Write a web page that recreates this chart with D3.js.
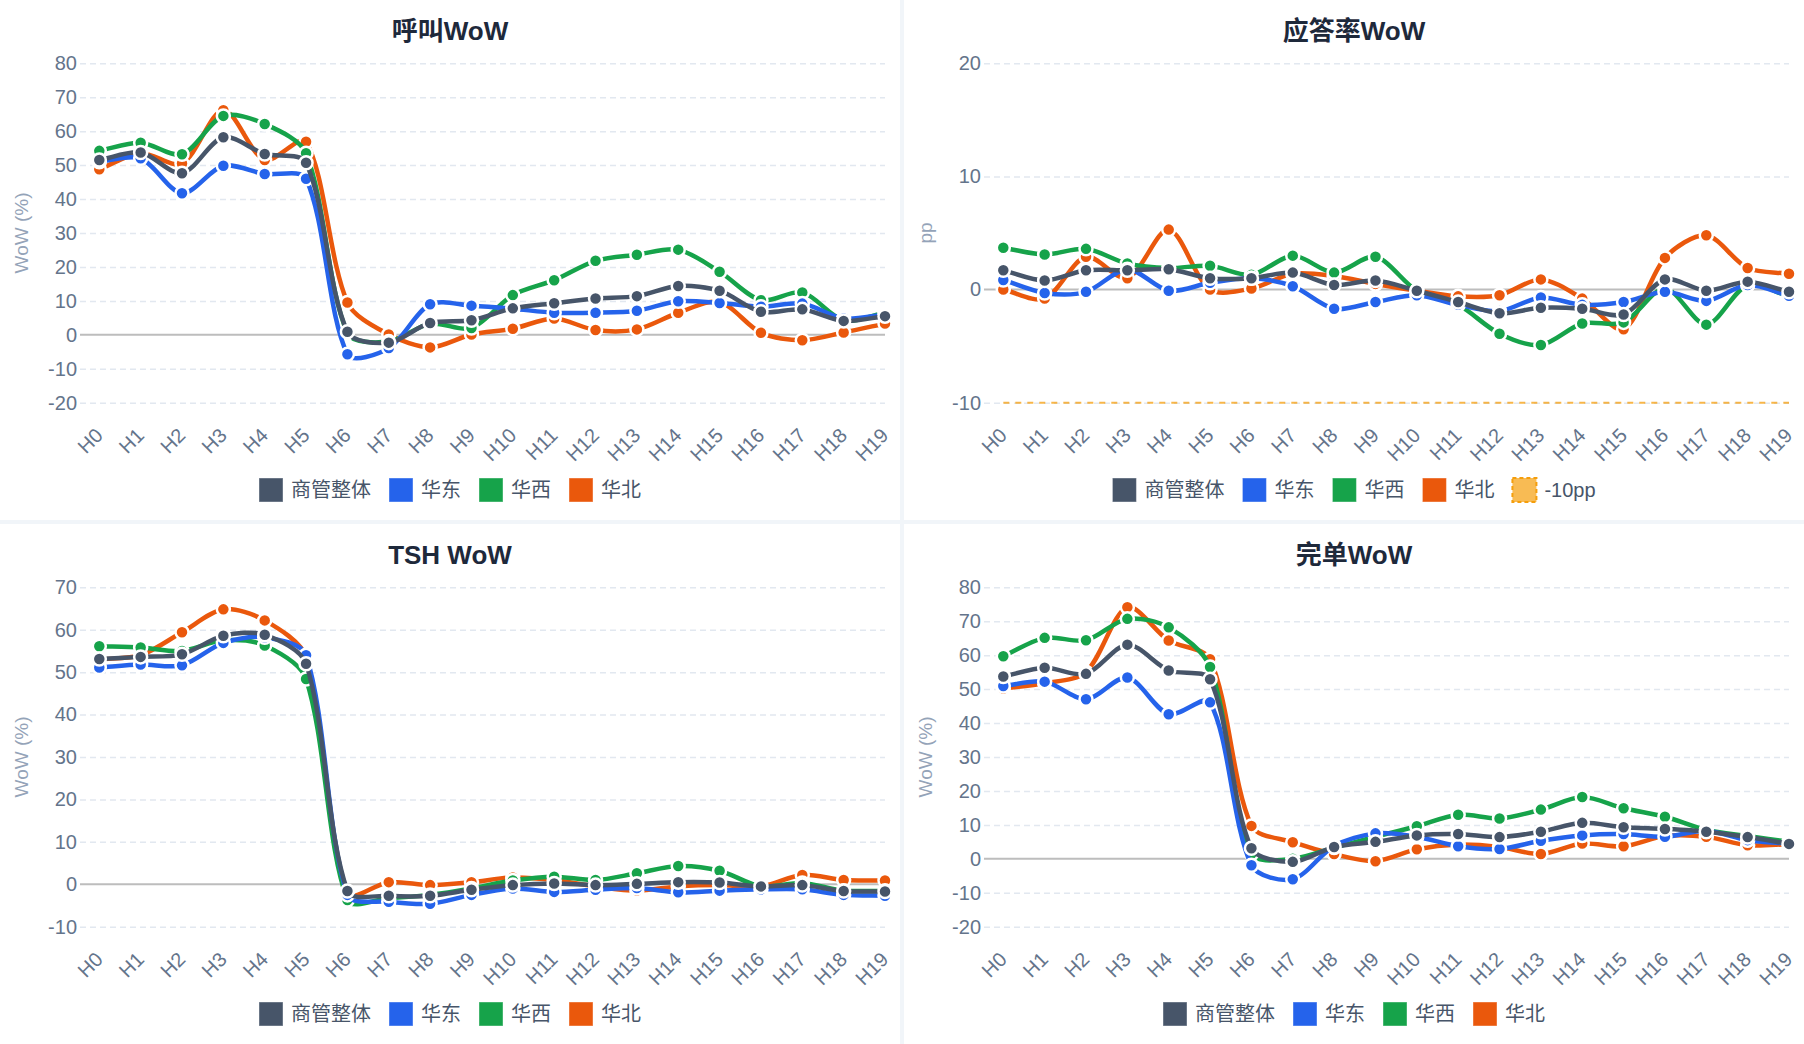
<!DOCTYPE html>
<html>
<head>
<meta charset="utf-8">
<script src="https://cdn.jsdelivr.net/npm/d3@7"></script>
<style>
  html, body { margin: 0; padding: 0; background: #f1f5f9; }
  svg { display: block; }
</style>
</head>
<body>
<svg id="board" width="1804" height="1044"></svg>
<script>
// ---- data ----
const hours = ["H0","H1","H2","H3","H4","H5","H6","H7","H8","H9",
               "H10","H11","H12","H13","H14","H15","H16","H17","H18","H19"];
const regionNames = ["商管整体", "华东", "华西", "华北"];
const regionColors = ["#475569", "#2563eb", "#16a34a", "#ea580c"];

// 呼叫WoW (%)
const callOverall = [51.5, 53.7, 47.6, 58.2, 53.3, 50.7, 0.9, -2.3, 3.5, 4.3, 7.8, 9.3, 10.7, 11.4, 14.4, 13.0, 6.8, 7.5, 4.1, 5.5];
const callEast    = [51.0, 52.0, 41.7, 49.8, 47.4, 46.0, -5.7, -3.9, 9.0, 8.6, 7.7, 6.5, 6.5, 7.1, 9.9, 9.4, 8.3, 9.2, 4.8, 6.0];
const callWest    = [54.2, 56.6, 53.2, 64.5, 62.1, 53.5, 0.5, -2.0, 3.3, 2.0, 11.7, 16.1, 21.8, 23.6, 25.1, 18.6, 10.2, 12.5, 4.3, 6.5];
const callNorth   = [48.8, 53.5, 50.5, 66.2, 51.5, 56.9, 9.5, 0.1, -3.7, 0.1, 1.8, 4.8, 1.4, 1.6, 6.5, 9.7, 0.6, -1.6, 0.7, 3.3];
const callTicks   = [-20, -10, 0, 10, 20, 30, 40, 50, 60, 70, 80];

// 应答率WoW (pp)
const ansOverall = [1.7, 0.8, 1.7, 1.7, 1.8, 1.0, 1.0, 1.5, 0.4, 0.8, -0.1, -1.1, -2.1, -1.6, -1.7, -2.2, 0.9, -0.1, 0.7, -0.2];
const ansEast    = [0.85, -0.3, -0.2, 1.8, -0.1, 0.6, 1.0, 0.3, -1.7, -1.1, -0.5, -1.35, -1.9, -0.7, -1.35, -1.1, -0.2, -1.0, 0.4, -0.55];
const ansWest    = [3.7, 3.1, 3.6, 2.3, 1.9, 2.1, 1.3, 3.0, 1.5, 2.9, -0.1, -1.35, -3.9, -4.9, -3.0, -2.9, 0.1, -3.1, 0.4, -0.6];
const ansNorth   = [0.0, -0.8, 2.9, 1.0, 5.3, 0.0, 0.1, 1.4, 1.2, 0.5, -0.1, -0.6, -0.5, 0.9, -0.8, -3.5, 2.8, 4.8, 1.9, 1.4];
const ansTicks   = [-10, 0, 10, 20];
const ansThreshold = -10;   // the "-10pp" reference line

// TSH WoW (%)
const tshOverall = [53.1, 53.6, 54.2, 58.6, 58.8, 52.0, -1.6, -2.7, -2.7, -1.3, -0.2, 0.2, -0.2, 0.1, 0.5, 0.4, -0.5, -0.2, -1.6, -1.7];
const tshEast    = [51.1, 51.8, 51.6, 56.9, 58.2, 54.0, -2.5, -4.1, -4.6, -2.5, -1.0, -1.8, -1.3, -0.9, -1.9, -1.5, -1.2, -1.2, -2.5, -2.7];
const tshWest    = [56.1, 55.8, 55.0, 57.5, 56.3, 48.4, -3.7, -3.3, -2.5, -1.0, 0.9, 1.8, 1.0, 2.6, 4.3, 3.2, -0.5, 0.3, -1.5, -1.5];
const tshNorth   = [53.0, 54.0, 59.4, 64.8, 62.2, 53.5, -2.1, 0.5, -0.2, 0.5, 1.6, 1.0, -0.5, -1.5, -0.5, -0.2, -0.5, 2.2, 1.0, 0.9];
const tshTicks   = [-10, 0, 10, 20, 30, 40, 50, 60, 70];

// 完单WoW (%)
const doneOverall = [53.7, 56.3, 54.5, 63.1, 55.5, 52.9, 3.1, -0.9, 3.5, 5.0, 6.9, 7.3, 6.4, 8.0, 10.6, 9.3, 8.8, 8.0, 6.4, 4.4];
const doneEast    = [50.9, 52.2, 47.0, 53.4, 42.6, 46.1, -1.9, -6.0, 3.8, 7.5, 6.5, 3.7, 2.9, 5.3, 6.9, 7.3, 6.5, 8.3, 5.5, 4.5];
const doneWest    = [59.7, 65.1, 64.4, 70.7, 68.2, 56.5, 1.5, 0.0, 3.3, 6.5, 9.6, 13.0, 11.9, 14.5, 18.2, 14.9, 12.4, 8.5, 6.7, 5.0];
const doneNorth   = [50.2, 51.7, 55.0, 74.1, 64.3, 58.8, 9.7, 4.9, 1.4, -0.7, 2.8, 4.2, 3.5, 1.4, 4.5, 3.7, 6.7, 6.5, 4.0, 4.3];
const doneTicks   = [-20, -10, 0, 10, 20, 30, 40, 50, 60, 70, 80];

// ---- layout ----
const W = 1804, H = 1044, GAP = 4;
const panelW = (W - GAP) / 2, panelH = (H - GAP) / 2;
const FONT = '"Liberation Sans", "Noto Sans CJK SC", sans-serif';
const plot = { gridLeft: 80, x0: 99.3, x1: 885, top: 63.3, bottom: 402.7 };

const charts = [
  { title: "呼叫WoW", yLabel: "WoW (%)", ticks: callTicks, series: [callOverall, callEast, callWest, callNorth], col: 0, row: 0 },
  { title: "应答率WoW", yLabel: "pp", ticks: ansTicks, series: [ansOverall, ansEast, ansWest, ansNorth], col: 1, row: 0, threshold: ansThreshold },
  { title: "TSH WoW", yLabel: "WoW (%)", ticks: tshTicks, series: [tshOverall, tshEast, tshWest, tshNorth], col: 0, row: 1 },
  { title: "完单WoW", yLabel: "WoW (%)", ticks: doneTicks, series: [doneOverall, doneEast, doneWest, doneNorth], col: 1, row: 1 }
];

const svg = d3.select("#board");

// same control points Chart.js uses for tension splines
function splinePath(pts, tension) {
  const cps = pts.map((p, i) => {
    const prev = pts[i - 1] || p, next = pts[i + 1] || p;
    const d01 = Math.hypot(p[0] - prev[0], p[1] - prev[1]);
    const d12 = Math.hypot(next[0] - p[0], next[1] - p[1]);
    let s01 = d01 / (d01 + d12), s12 = d12 / (d01 + d12);
    if (isNaN(s01)) s01 = 0;
    if (isNaN(s12)) s12 = 0;
    const fa = tension * s01, fb = tension * s12;
    return {
      prev: [p[0] - fa * (next[0] - prev[0]), p[1] - fa * (next[1] - prev[1])],
      next: [p[0] + fb * (next[0] - prev[0]), p[1] + fb * (next[1] - prev[1])]
    };
  });
  const path = d3.path();
  path.moveTo(pts[0][0], pts[0][1]);
  for (let i = 1; i < pts.length; i++) {
    const a = cps[i - 1].next, b = cps[i].prev;
    path.bezierCurveTo(a[0], a[1], b[0], b[1], pts[i][0], pts[i][1]);
  }
  return path.toString();
}

function drawChart(cfg) {
  const g = svg.append("g")
    .attr("transform", "translate(" + cfg.col * (panelW + GAP) + "," + cfg.row * (panelH + GAP) + ")");

  g.append("rect")
    .attr("width", panelW)
    .attr("height", panelH)
    .attr("fill", "#ffffff");

  const x = d3.scalePoint().domain(hours).range([plot.x0, plot.x1]);
  const y = d3.scaleLinear()
    .domain([d3.min(cfg.ticks), d3.max(cfg.ticks)])
    .range([plot.bottom, plot.top]);

  // title
  g.append("text")
    .attr("x", panelW / 2)
    .attr("y", 31)
    .attr("text-anchor", "middle")
    .attr("dominant-baseline", "central")
    .style("font-family", FONT)
    .style("font-size", "26px")
    .style("font-weight", "bold")
    .style("fill", "#1e293b")
    .text(cfg.title);

  // y axis + dashed grid (plain hyphen for negatives, like the original)
  const yAxis = g.append("g")
    .attr("transform", "translate(" + plot.gridLeft + ",0)")
    .call(d3.axisLeft(y).tickValues(cfg.ticks).tickFormat(d => String(d))
      .tickSizeInner(-(plot.x1 - plot.gridLeft)).tickSizeOuter(0).tickPadding(3));
  yAxis.select(".domain").remove();
  yAxis.selectAll(".tick line")
    .attr("stroke", d => d === 0 ? "none" : "#e2e8f0")
    .attr("stroke-width", 1.5)
    .attr("stroke-dasharray", "6,4");
  yAxis.selectAll(".tick text")
    .style("font-family", FONT)
    .style("font-size", "20px")
    .style("fill", "#64748b");

  // zero line
  g.append("line")
    .attr("x1", plot.gridLeft)
    .attr("x2", plot.x1)
    .attr("y1", y(0))
    .attr("y2", y(0))
    .attr("stroke", "#bdbdbd")
    .attr("stroke-width", 2);

  // y axis title
  g.append("text")
    .attr("transform", "translate(21," + (plot.top + plot.bottom) / 2 + ") rotate(-90)")
    .attr("text-anchor", "middle")
    .attr("dominant-baseline", "central")
    .style("font-family", FONT)
    .style("font-size", "19px")
    .style("fill", "#94a3b8")
    .text(cfg.yLabel);

  // x axis, rotated labels
  const xAxis = g.append("g")
    .attr("transform", "translate(0,431)")
    .call(d3.axisBottom(x).tickSize(0));
  xAxis.select(".domain").remove();
  xAxis.selectAll(".tick text")
    .attr("x", -1)
    .attr("y", 0)
    .attr("dy", "0.35em")
    .attr("transform", "rotate(-45)")
    .style("text-anchor", "end")
    .style("font-family", FONT)
    .style("font-size", "20px")
    .style("fill", "#64748b");

  // threshold line sits under the data, like the last dataset in Chart.js
  if (cfg.threshold !== undefined) {
    g.append("line")
      .attr("x1", x(hours[0]))
      .attr("x2", x(hours[hours.length - 1]))
      .attr("y1", y(cfg.threshold))
      .attr("y2", y(cfg.threshold))
      .attr("stroke", "#f59e0b")
      .attr("stroke-opacity", 0.75)
      .attr("stroke-width", 2)
      .attr("stroke-dasharray", "6,6");
  }

  // series: first one ends up on top
  for (let s = cfg.series.length - 1; s >= 0; s--) {
    const vals = cfg.series[s];
    const pts = vals.map((v, i) => [x(hours[i]), y(v)]);
    const sg = g.append("g");
    sg.append("path")
      .attr("d", splinePath(pts, 0.3))
      .attr("fill", "none")
      .attr("stroke", regionColors[s])
      .attr("stroke-width", 4.5)
      .attr("stroke-linejoin", "round");
    sg.selectAll("circle")
      .data(vals)
      .enter()
      .append("circle")
      .attr("cx", (d, i) => x(hours[i]))
      .attr("cy", d => y(d))
      .attr("r", 6.5)
      .attr("fill", regionColors[s])
      .attr("stroke", "#ffffff")
      .attr("stroke-width", 2.5);
  }

  // legend
  const items = regionNames.map((n, i) => ({ name: n, color: regionColors[i] }));
  if (cfg.threshold !== undefined) items.push({ name: cfg.threshold + "pp", threshold: true });

  const box = 24, boxGap = 8, itemGap = 18, legendY = 490;
  const lg = g.append("g");
  let cursor = 0;
  items.forEach(it => {
    const ig = lg.append("g").attr("transform", "translate(" + cursor + ",0)");
    const r = ig.append("rect")
      .attr("x", 0)
      .attr("y", legendY - box / 2)
      .attr("width", box)
      .attr("height", box);
    if (it.threshold) {
      r.attr("fill", "#f59e0b").attr("fill-opacity", 0.7)
        .attr("stroke", "#f59e0b").attr("stroke-width", 2).attr("stroke-dasharray", "4,3");
    } else {
      r.attr("fill", it.color).attr("stroke", "#ffffff").attr("stroke-opacity", 0.4).attr("stroke-width", 1);
    }
    const t = ig.append("text")
      .attr("x", box + boxGap)
      .attr("y", legendY)
      .attr("dominant-baseline", "central")
      .style("font-family", FONT)
      .style("font-size", "20px")
      .style("fill", "#475569")
      .text(it.name);
    cursor += box + boxGap + t.node().getComputedTextLength() + itemGap;
  });
  const legendW = cursor - itemGap;
  lg.attr("transform", "translate(" + (panelW / 2 - legendW / 2) + ",0)");
}

charts.forEach(drawChart);
</script>
</body>
</html>
